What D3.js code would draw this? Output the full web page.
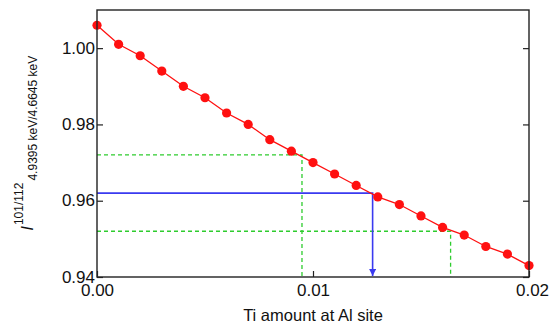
<!DOCTYPE html>
<html>
<head>
<meta charset="utf-8">
<script src="https://cdn.jsdelivr.net/npm/d3@7"></script>
<style>
  html, body { margin: 0; padding: 0; background: #fff; }
  svg { display: block; font-family: "Liberation Sans", Arial, sans-serif; }
</style>
</head>
<body>
<script>
// Ti amount at Al site vs. intensity ratio
const tiAmount = [0.000, 0.001, 0.002, 0.003, 0.004, 0.005, 0.006, 0.007, 0.008, 0.009, 0.010,
                  0.011, 0.012, 0.013, 0.014, 0.015, 0.016, 0.017, 0.018, 0.019, 0.020];
const ratio = [1.006, 1.001, 0.998, 0.994, 0.990, 0.987, 0.983, 0.980, 0.976, 0.973, 0.970,
               0.967, 0.964, 0.961, 0.959, 0.956, 0.953, 0.951, 0.948, 0.946, 0.943];

const xTicks = [0.00, 0.01, 0.02];
const yTicks = [0.94, 0.96, 0.98, 1.00];

// measured level (blue) and its bounds (green)
const measured = { y: 0.962, x: 0.01276 };
const bounds = [{ y: 0.972, x: 0.00949 }, { y: 0.952, x: 0.01637 }];

const W = 550, H = 333;
const M = { top: 10, right: 21, bottom: 56, left: 97 };

const svg = d3.select("body").append("svg").attr("width", W).attr("height", H);

const x = d3.scaleLinear().domain([0, 0.02]).range([M.left, W - M.right]);
const y = d3.scaleLinear().domain([0.94, 1.01]).range([H - M.bottom, M.top]);

const AXIS = "#222";
const TICK = 6;

// guides
bounds.forEach((b) => {
  svg.append("path")
    .attr("d", `M${x(0)},${y(b.y)}H${x(b.x)}V${y(0.94)}`)
    .attr("fill", "none")
    .attr("stroke", "#2ecc2e")
    .attr("stroke-width", 1.3)
    .attr("stroke-dasharray", "4,3");
});

svg.append("defs").append("marker")
  .attr("id", "arr")
  .attr("viewBox", "0 0 10 10")
  .attr("refX", 10).attr("refY", 5)
  .attr("markerWidth", 7).attr("markerHeight", 7)
  .attr("markerUnits", "userSpaceOnUse")
  .attr("orient", "auto")
  .append("path").attr("d", "M0,0L10,5L0,10Z").attr("fill", "#3a3af0");

svg.append("path")
  .attr("d", `M${x(0)},${y(measured.y)}H${x(measured.x)}V${y(0.94) - 1}`)
  .attr("fill", "none")
  .attr("stroke", "#3a3af0")
  .attr("stroke-width", 1.6)
  .attr("marker-end", "url(#arr)");

// data
const pts = tiAmount.map((t, i) => [t, ratio[i]]);
svg.append("path")
  .datum(pts)
  .attr("d", d3.line().x((d) => x(d[0])).y((d) => y(d[1])))
  .attr("fill", "none")
  .attr("stroke", "#ff1010")
  .attr("stroke-width", 1.3);

svg.append("g")
  .selectAll("circle")
  .data(pts)
  .join("circle")
  .attr("cx", (d) => x(d[0]))
  .attr("cy", (d) => y(d[1]))
  .attr("r", 4.6)
  .attr("fill", "#ff1010");

// frame
svg.append("rect")
  .attr("x", x(0)).attr("y", y(1.01))
  .attr("width", x(0.02) - x(0)).attr("height", y(0.94) - y(1.01))
  .attr("fill", "none").attr("stroke", AXIS).attr("stroke-width", 1.4);

// axes (ticks inward)
const yl = svg.append("g").attr("transform", `translate(${x(0)},0)`)
  .call(d3.axisLeft(y).tickValues(yTicks).tickFormat(d3.format(".2f")).tickSizeInner(-TICK).tickSizeOuter(0).tickPadding(4));
const yr = svg.append("g").attr("transform", `translate(${x(0.02)},0)`)
  .call(d3.axisRight(y).tickValues(yTicks).tickFormat("").tickSizeInner(-TICK).tickSizeOuter(0));
const xb = svg.append("g").attr("transform", `translate(0,${y(0.94)})`)
  .call(d3.axisBottom(x).tickValues(xTicks).tickFormat(d3.format(".2f")).tickSizeInner(-TICK).tickSizeOuter(0).tickPadding(5));

[yl, yr, xb].forEach((g) => {
  g.select(".domain").remove();
  g.selectAll("line").attr("stroke", AXIS).attr("stroke-width", 1.2);
  g.selectAll("text").attr("fill", "#111").style("font-size", "17px")
    .style("font-family", "'Liberation Sans', Arial, sans-serif");
});
xb.selectAll("text").attr("dy", "0.85em");
yl.selectAll("text").attr("x", -2).attr("dy", "0.3em");
// 0.02 label sits a bit right of its tick in the reference
xb.selectAll(".tick").filter((d) => d === 0.02).select("text").attr("dx", 3);

// axis titles
svg.append("text")
  .attr("x", x(0.01)).attr("y", 321)
  .attr("text-anchor", "middle")
  .attr("fill", "#111")
  .style("font-size", "16.5px")
  .text("Ti amount at Al site");

const yt = svg.append("text")
  .attr("transform", `translate(33,${y(0.955) + 11}) rotate(-90)`)
  .attr("fill", "#111");
yt.append("tspan").style("font-size", "17px").style("font-style", "italic").text("I");
yt.append("tspan").attr("dy", -10).attr("dx", 1).style("font-size", "12px").text("101/112");
yt.append("tspan").attr("dy", 14).attr("dx", 2).style("font-size", "12px").text("4.9395 keV/4.6645 keV");
</script>
</body>
</html>
